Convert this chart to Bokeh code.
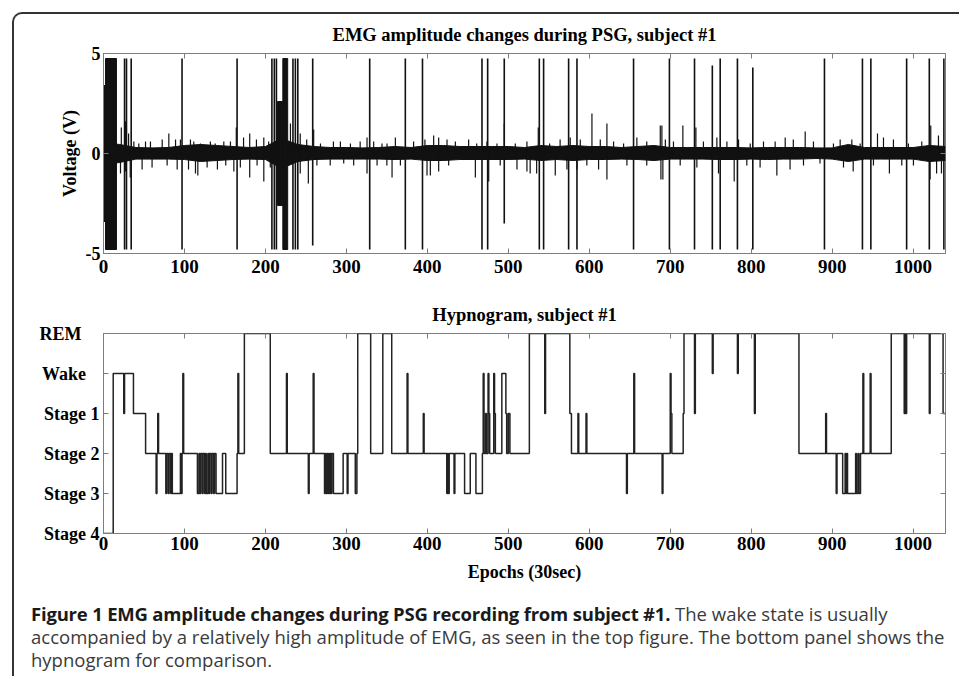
from bokeh.plotting import figure
from bokeh.layouts import column
from bokeh.models import Div, LinearAxis, FixedTicker, Range1d, InlineStyleSheet
from bokeh.embed import file_html
from bokeh.resources import INLINE

# ---------------- data ----------------
X_MAX = 1040
x_ticks = [0, 100, 200, 300, 400, 500, 600, 700, 800, 900, 1000]
emg_y_ticks = [-5, 0, 5]
emg_y_labels = ["-5", "0", "5"]
stage_ticks = [0, 1, 2, 3, 4, 5]
stage_labels = ["Stage 4", "Stage 3", "Stage 2", "Stage 1", "Wake", "REM"]

# EMG: baseline noise envelope (V), every 20 epochs
env_epoch = [0, 20, 40, 60, 80, 100, 120, 140, 160, 180, 200, 220, 240, 260, 280,
             300, 320, 340, 360, 380, 400, 420, 440, 460, 480, 500, 520, 540, 560,
             580, 600, 620, 640, 660, 680, 700, 720, 740, 760, 780, 800, 820, 840,
             860, 880, 900, 920, 940, 960, 980, 1000, 1020, 1040]
env_hi = [0.55, 0.45, 0.3, 0.28, 0.3, 0.4, 0.45, 0.4, 0.35, 0.3, 0.35, 0.75, 0.45, 0.35, 0.3,
          0.3, 0.28, 0.3, 0.35, 0.3, 0.4, 0.4, 0.35, 0.35, 0.35, 0.35, 0.3, 0.4, 0.35,
          0.4, 0.35, 0.35, 0.3, 0.35, 0.4, 0.3, 0.3, 0.3, 0.3, 0.3, 0.28, 0.3, 0.3,
          0.3, 0.28, 0.28, 0.45, 0.3, 0.3, 0.3, 0.3, 0.4, 0.35]
env_lo = [-0.55, -0.45, -0.28, -0.28, -0.28, -0.3, -0.4, -0.35, -0.3, -0.28, -0.3, -0.75, -0.4, -0.3, -0.28,
          -0.28, -0.28, -0.28, -0.3, -0.28, -0.35, -0.35, -0.3, -0.3, -0.3, -0.3, -0.28, -0.35, -0.3,
          -0.35, -0.3, -0.3, -0.28, -0.3, -0.35, -0.28, -0.28, -0.28, -0.3, -0.3, -0.28, -0.3, -0.28,
          -0.28, -0.25, -0.28, -0.4, -0.28, -0.28, -0.28, -0.28, -0.4, -0.35]

# EMG: saturated bursts
burst_left = [0.5, 2.5, 215, 221.5]
burst_right = [2.5, 16, 221.5, 227.5]
burst_top = [3.4, 4.75, 2.6, 4.75]
burst_bottom = [-3.4, -4.8, -2.6, -4.8]

# EMG: large (clipped) artefact spikes
spike_epoch = [26, 28.4, 34.2, 97, 165, 208, 211, 213.6, 234, 237, 240, 258.4,
               328.8, 372.8, 394, 467.5, 474.5, 495, 538.3, 543.6, 574.5, 584.8,
               654.7, 699, 730, 752, 761.7, 783, 802, 890.5, 937.4, 947.8, 992,
               1020, 1038]
spike_top = [4.75, 4.75, 4.75, 4.75, 4.75, 4.75, 4.75, 4.75, 4.75, 4.75, 4.75, 4.75,
             4.75, 4.75, 4.75, 4.75, 4.75, 4.75, 4.75, 4.75, 4.75, 4.75,
             4.75, 4.75, 4.75, 4.4, 4.75, 4.75, 4.3, 4.75, 4.75, 4.75, 4.75,
             4.75, 4.75]
spike_bottom = [-4.8, -4.8, -4.8, -4.8, -4.8, -4.8, -4.8, -4.8, -4.8, -4.8, -4.8, -4.6,
                -4.8, -4.8, -4.8, -4.8, -4.8, -3.5, -4.8, -4.8, -4.8, -4.8,
                -4.8, -4.8, -4.8, -4.8, -4.8, -4.8, -4.8, -4.8, -4.8, -4.8, -4.8,
                -4.8, -4.8]

# EMG: smaller positive excursions
up_epoch = [22, 27, 31, 37.5, 43.6, 51.9, 58, 72.5, 80.7, 89,
            95, 107.4, 111.5, 119.8, 132, 138, 148.6, 156.8, 164, 173,
            180.6, 188.9, 198, 204, 216, 219, 230.9, 243, 251, 259.6,
            268, 284, 292.6, 305, 317, 325.5, 333.7, 344, 350.2, 360.5,
            383, 397, 407.8, 414, 424.3, 434.6, 451, 461, 473.6, 486,
            495, 508.6, 523, 537, 551, 564, 576.5, 588.9, 603.3, 613.6,
            621.8, 630, 642.4, 658.8, 671, 687.7, 689.7, 694, 704, 715.6,
            731.7, 741, 757.6, 770, 784.4, 798.8, 815.2, 829.6, 842, 852,
            866.7, 876.9, 901.6, 909.9, 924.3, 934.6, 956, 963.4, 975.7, 994.2,
            1010.7, 1021.8, 1031.3]
up_val = [1.3, 1.6, 1.0, 0.6, 0.5, 0.6, 0.6, 0.7, 1.0, 0.7,
          0.7, 0.7, 0.6, 0.5, 0.6, 0.5, 0.6, 0.6, 1.3, 0.8,
          1.0, 0.7, 0.8, 0.6, 2.0, 2.6, 1.5, 1.0, 0.7, 1.2,
          0.5, 0.6, 0.6, 0.5, 0.6, 0.8, 0.6, 0.5, 0.5, 0.8,
          0.6, 0.7, 0.9, 0.8, 0.7, 0.6, 0.7, 0.5, 0.6, 0.5,
          1.5, 0.5, 0.6, 1.3, 0.5, 0.7, 0.8, 0.7, 2.0, 0.7,
          1.5, 0.6, 0.5, 0.8, 0.6, 1.4, 1.4, 0.7, 0.6, 1.4,
          1.3, 0.6, 0.8, 0.6, 0.7, 0.5, 0.6, 0.6, 0.8, 0.7,
          1.1, 0.6, 0.5, 0.7, 0.7, 0.5, 1.0, 0.8, 0.7, 0.5,
          0.6, 1.4, 0.9]

# EMG: smaller negative excursions
dn_epoch = [21, 27, 33, 47.7, 60, 78.6, 91, 105, 113.6, 116.5,
            128, 140.7, 151, 161, 169, 180.6, 189.7, 198, 206, 216,
            219, 243, 253, 263.6, 280, 296.7, 309, 325.5, 337.9, 350,
            356.4, 366.7, 399.6, 403.7, 414, 426.3, 459.3, 475.8, 490, 510.7,
            523, 527, 535, 558, 572.4, 584.8, 597, 611.5, 621.8, 646.5,
            671, 688.5, 690.9, 712.3, 732.9, 759.6, 779, 794.6, 811, 831.7,
            848, 864.6, 885, 914, 926, 951, 970.7, 986, 1000.4, 1021,
            1029, 1035]
dn_val = [-1.0, -0.9, -1.2, -0.8, -0.7, -0.6, -0.8, -0.8, -1.0, -1.1,
          -0.7, -0.8, -0.6, -0.9, -0.7, -1.2, -0.6, -1.4, -0.7, -2.5,
          -2.0, -1.0, -1.5, -0.6, -0.6, -0.5, -0.6, -1.0, -0.6, -0.6,
          -1.2, -0.6, -1.1, -1.1, -0.9, -0.6, -1.2, -1.4, -0.6, -0.8,
          -0.9, -1.0, -1.0, -1.1, -0.8, -0.8, -0.6, -0.8, -1.3, -0.6,
          -0.6, -1.3, -1.3, -0.6, -0.7, -1.0, -1.4, -0.6, -0.7, -1.1,
          -0.8, -0.6, -0.5, -0.7, -0.9, -0.6, -1.0, -0.6, -0.6, -1.3,
          -1.0, -1.0]

# Hypnogram: epoch where a stage starts, and stage index into stage_labels
hyp_epoch = [0, 12, 25, 26, 37, 52, 65, 66, 67, 68,
             77, 78, 80, 81, 83, 84, 85, 95, 96, 97,
             98, 99, 116, 118, 119, 120, 122, 123, 125, 126,
             127, 129, 130, 131, 133, 134, 136, 137, 139, 147,
             151, 165, 166, 167, 174, 206, 226, 227, 253, 254,
             259, 260, 273, 274, 275, 276, 277, 278, 279, 280,
             281, 282, 284, 296, 301, 302, 311, 313, 314, 330,
             345, 356, 375, 376, 395, 396, 424, 425, 426, 427,
             433, 434, 446, 453, 460, 468, 469, 470, 472, 473,
             475, 476, 477, 482, 483, 484, 492, 497, 498, 500,
             502, 526, 545, 546, 576, 578, 586, 587, 596, 597,
             646, 647, 655, 656, 690, 691, 700, 701, 702, 716,
             717, 730, 731, 752, 753, 783, 784, 804, 805, 859,
             892, 893, 905, 906, 913, 916, 917, 918, 919, 929,
             930, 932, 933, 935, 938, 939, 947, 948, 973, 989,
             990, 991, 992, 1020, 1021, 1037]
hyp_stage = [0, 4, 3, 4, 3, 2, 1, 2, 3, 2,
             1, 2, 1, 2, 1, 2, 1, 2, 1, 2,
             4, 2, 1, 2, 1, 2, 1, 2, 1, 2,
             1, 2, 1, 2, 1, 2, 1, 2, 1, 2,
             1, 2, 4, 2, 5, 2, 4, 2, 1, 2,
             4, 2, 1, 2, 1, 2, 1, 2, 1, 2,
             1, 2, 1, 2, 1, 2, 1, 2, 5, 2,
             5, 2, 4, 2, 3, 2, 1, 2, 1, 2,
             1, 2, 1, 2, 1, 2, 4, 2, 3, 2,
             4, 3, 2, 4, 3, 2, 4, 3, 2, 3,
             2, 5, 3, 5, 3, 2, 3, 2, 3, 2,
             1, 2, 4, 2, 1, 2, 4, 3, 2, 3,
             5, 3, 5, 4, 5, 4, 5, 3, 5, 2,
             3, 2, 1, 2, 1, 2, 1, 2, 1, 2,
             1, 2, 1, 2, 4, 2, 4, 2, 5, 3,
             5, 3, 5, 3, 5, 3]

title_emg = "EMG amplitude changes during PSG, subject #1"
title_hyp = "Hypnogram, subject #1"
ylabel_emg = "Voltage (V)"
xlabel_hyp = "Epochs (30sec)"
caption_bold = "Figure 1 EMG amplitude changes during PSG recording from subject #1."
caption_lines = ["The wake state is usually",
                 "accompanied by a relatively high amplitude of EMG, as seen in the top figure. The bottom panel shows the",
                 "hypnogram for comparison."]

assert len(up_epoch) == len(up_val)
assert len(dn_epoch) == len(dn_val)
assert len(hyp_epoch) == len(hyp_stage)
assert len(env_epoch) == len(env_hi) == len(env_lo)

# ---------------- styling helpers ----------------
SERIF = "Liberation Serif"
GRAY = "#7d7d7d"
INK = "#111111"


def make_fig(height, b_top, b_bottom, title, y_range):
    p = figure(width=959, height=height, x_range=Range1d(0, X_MAX), y_range=y_range,
               output_backend="svg", toolbar_location=None, tools="",
               min_border_left=103, min_border_right=14,
               min_border_top=b_top, min_border_bottom=b_bottom, title=title)
    p.title.align = "center"
    p.title.text_font = SERIF
    p.title.text_font_size = "18.5px"
    p.title.text_font_style = "bold"
    p.title.text_color = "black"
    p.title.standoff = 17
    p.outline_line_color = GRAY
    p.outline_line_width = 1
    p.xgrid.visible = False
    p.ygrid.visible = False
    p.background_fill_color = "white"
    p.border_fill_color = None
    return p


def style_axis(ax, ticks, size="18px"):
    ax.ticker = FixedTicker(ticks=ticks)
    ax.axis_line_color = GRAY
    ax.major_tick_line_color = GRAY
    ax.major_tick_in = 5
    ax.major_tick_out = 0
    ax.minor_tick_line_color = None
    ax.major_label_text_font = SERIF
    ax.major_label_text_font_style = "bold"
    ax.major_label_text_color = "black"
    ax.major_label_text_font_size = size
    ax.major_label_standoff = 3
    ax.axis_label_text_font = SERIF
    ax.axis_label_text_font_style = "bold"
    ax.axis_label_text_font_size = "18px"
    ax.axis_label_text_color = "black"


def mirror_axes(p, xt, yt):
    for ticks, side in ((xt, "above"), (yt, "right")):
        ax = LinearAxis()
        style_axis(ax, ticks, size="1px")
        ax.major_label_text_color = None
        ax.major_label_standoff = 0
        ax.axis_line_color = None
        p.add_layout(ax, side)


# ---------------- EMG panel ----------------
p1 = make_fig(290, 53, 37, title_emg, Range1d(-5, 5))
style_axis(p1.xaxis[0], x_ticks, size="19px")
p1.xaxis[0].major_label_standoff = 6
style_axis(p1.yaxis[0], emg_y_ticks)
p1.yaxis[0].major_label_overrides = dict(zip(emg_y_ticks, emg_y_labels))
p1.yaxis[0].axis_label = ylabel_emg
p1.yaxis[0].axis_label_standoff = 3
mirror_axes(p1, x_ticks, emg_y_ticks)

p1.varea(x=env_epoch, y1=env_lo, y2=env_hi, fill_color=INK)
p1.line(x=env_epoch, y=env_hi, line_color=INK, line_width=1)
p1.line(x=env_epoch, y=env_lo, line_color=INK, line_width=1)
p1.segment(x0=up_epoch, y0=[0] * len(up_epoch), x1=up_epoch, y1=up_val,
           line_color=INK, line_width=1.2)
p1.segment(x0=dn_epoch, y0=[0] * len(dn_epoch), x1=dn_epoch, y1=dn_val,
           line_color=INK, line_width=1.2)
p1.quad(left=burst_left, right=burst_right, top=burst_top, bottom=burst_bottom,
        fill_color=INK, line_color=INK)
p1.segment(x0=spike_epoch, y0=spike_bottom, x1=spike_epoch, y1=spike_top,
           line_color=INK, line_width=1.6)

# ---------------- Hypnogram panel ----------------
p2 = make_fig(300, 43, 57, title_hyp, Range1d(0, 5))
style_axis(p2.xaxis[0], x_ticks, size="19px")
style_axis(p2.yaxis[0], stage_ticks)
p2.xaxis[0].axis_label = xlabel_hyp
p2.xaxis[0].axis_label_standoff = 9
pad = {"Stage 4": "", "Stage 3": "", "Stage 2": "", "Stage 1": "",
       "Wake": "\u00a0\u00a0\u00a0", "REM": "\u00a0\u00a0\u00a0\u00a0"}
p2.yaxis[0].major_label_overrides = {t: lab + pad[lab] for t, lab in zip(stage_ticks, stage_labels)}
p2.yaxis[0].major_label_standoff = 4
mirror_axes(p2, x_ticks, stage_ticks)

p2.step(x=hyp_epoch + [X_MAX], y=hyp_stage + [hyp_stage[-1]], mode="after",
        line_color="#222222", line_width=1.5)

# ---------------- caption ----------------
cap_html = (
    "<div style=\"padding:7px 0 0 26px; font-family:'Open Sans',sans-serif; font-size:18.5px;"
    " line-height:23px; color:#3a3a3a; white-space:nowrap;\">"
    f"<b style=\"color:#1a1a1a; letter-spacing:-0.2px\">{caption_bold}</b> {caption_lines[0]}<br>"
    f"{caption_lines[1]}<br>{caption_lines[2]}</div>"
)
caption = Div(text=cap_html, width=959, height=86)

frame_css = InlineStyleSheet(css="""
:host::before {
  content: ''; position: absolute; left: 12px; top: 12px;
  width: 947px; height: 664px; box-sizing: border-box;
  border-left: 2px solid #333; border-top: 2px solid #333;
  border-top-left-radius: 10px; pointer-events: none; z-index: 10;
}
""")

layout = column(p1, p2, caption, spacing=0, stylesheets=[frame_css])

open("out.html", "w").write(file_html(layout, INLINE))
